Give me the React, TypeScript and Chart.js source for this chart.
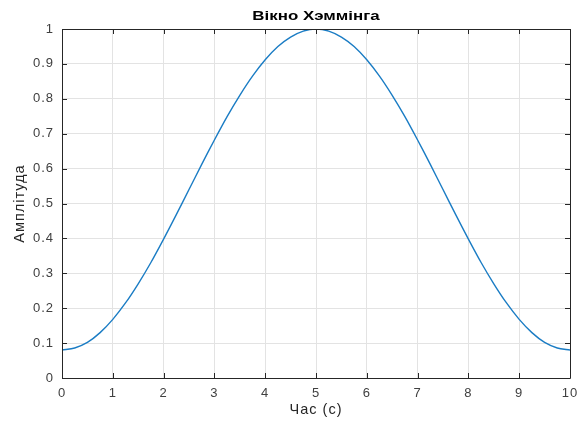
import React, { useEffect, useRef } from "react";
import { Chart, registerables } from "chart.js";

Chart.register(...registerables);

const times = [0, 0.25, 0.5, 0.75, 1, 1.25, 1.5, 1.75, 2, 2.25, 2.5, 2.75, 3, 3.25, 3.5, 3.75, 4, 4.25, 4.5, 4.75, 5, 5.25, 5.5, 5.75, 6, 6.25, 6.5, 6.75, 7, 7.25, 7.5, 7.75, 8, 8.25, 8.5, 8.75, 9, 9.25, 9.5, 9.75, 10];
const amplitude = [0.08, 0.086, 0.102, 0.13, 0.168, 0.215, 0.27, 0.331, 0.398, 0.468, 0.54, 0.612, 0.682, 0.749, 0.81, 0.865, 0.912, 0.95, 0.977, 0.994, 1.0, 0.994, 0.977, 0.95, 0.912, 0.865, 0.81, 0.749, 0.682, 0.612, 0.54, 0.468, 0.398, 0.331, 0.27, 0.215, 0.168, 0.13, 0.102, 0.086, 0.08];
const xTicks = [0, 1, 2, 3, 4, 5, 6, 7, 8, 9, 10];
const yTicks = [0, 0.1, 0.2, 0.3, 0.4, 0.5, 0.6, 0.7, 0.8, 0.9, 1];
const titleText = "Вікно Хэммінга";
const xLabel = "Час (с)";
const yLabel = "Амплітуда";

const FONT = "'Liberation Sans', Arial, sans-serif";

const spacingPlugin = {
  id: "spacing",
  beforeUpdate(chart: any) {
    chart.ctx.letterSpacing = "1px";
  },
  beforeDraw(chart: any) {
    chart.ctx.letterSpacing = "1px";
  },
};

const boxPlugin = {
  id: "boxTicks",
  afterDraw(chart: any) {
    const { ctx, chartArea } = chart;
    const { left, right, top, bottom } = chartArea;
    const x = chart.scales.x;
    const y = chart.scales.y;
    ctx.save();
    ctx.strokeStyle = "#262626";
    ctx.lineWidth = 1;
    ctx.beginPath();
    ctx.rect(Math.round(left) + 0.5, Math.round(top) + 0.5, Math.round(right - left), Math.round(bottom - top));
    ctx.stroke();
    const tl = 5;
    ctx.beginPath();
    xTicks.forEach((v) => {
      const px = Math.round(x.getPixelForValue(v)) + 0.5;
      ctx.moveTo(px, bottom);
      ctx.lineTo(px, bottom - tl);
      ctx.moveTo(px, top);
      ctx.lineTo(px, top + tl);
    });
    yTicks.forEach((v) => {
      const py = Math.round(y.getPixelForValue(v)) + 0.5;
      ctx.moveTo(left, py);
      ctx.lineTo(left + tl, py);
      ctx.moveTo(right, py);
      ctx.lineTo(right - tl, py);
    });
    ctx.stroke();
    // title
    ctx.letterSpacing = "0px";
    ctx.fillStyle = "#000000";
    ctx.font = "bold 13px " + FONT;
    ctx.textAlign = "center";
    ctx.textBaseline = "middle";
    const cx = (left + right) / 2;
    ctx.translate(cx, 16);
    ctx.scale(1.3, 1);
    ctx.fillText(titleText, 0, 0);
    ctx.restore();
  },
};

export default function App() {
  const ref = useRef<HTMLCanvasElement | null>(null);
  useEffect(() => {
    document.body.style.margin = "0";
    const canvas = ref.current;
    if (!canvas) return;
    const chart = new Chart(canvas, {
      type: "line",
      data: {
        datasets: [
          {
            data: times.map((t, i) => ({ x: t, y: amplitude[i] })),
            borderColor: "#1a7cc4",
            borderWidth: 1.4,
            pointRadius: 0,
            tension: 0.3,
            fill: false,
          },
        ],
      },
      options: {
        responsive: false,
        animation: false,
        devicePixelRatio: 1,
        layout: { padding: { left: 0, right: 7, top: 29, bottom: 0 } },
        plugins: {
          legend: { display: false },
          tooltip: { enabled: false },
          title: { display: false },
        },
        scales: {
          x: {
            type: "linear",
            min: 0,
            max: 10,
            afterBuildTicks: (scale: any) => {
              scale.ticks = xTicks.map((v) => ({ value: v }));
            },
            afterFit: (scale: any) => {
              scale.height = 45;
              scale.paddingLeft = 0;
              scale.paddingRight = 0;
            },
            ticks: {
              color: "#404040",
              font: { family: FONT, size: 13 },
              padding: 8,
              maxRotation: 0,
              autoSkip: false,
              callback: (v: any) => String(v),
            },
            grid: { color: "#e3e3e3", drawTicks: false, lineWidth: 1 },
            border: { display: false },
            title: {
              display: true,
              text: xLabel,
              color: "#262626",
              font: { family: FONT, size: 14.5, lineHeight: 1.2 },
              padding: { top: 0, bottom: 4 },
            },
          },
          y: {
            type: "linear",
            min: 0,
            max: 1,
            afterBuildTicks: (scale: any) => {
              scale.ticks = yTicks.map((v) => ({ value: v }));
            },
            afterFit: (scale: any) => {
              scale.width = 62;
              scale.paddingTop = 0;
              scale.paddingBottom = 0;
            },
            ticks: {
              color: "#404040",
              font: { family: FONT, size: 13 },
              padding: 8,
              autoSkip: false,
              callback: (v: any) => String(Number(Number(v).toFixed(1))),
            },
            grid: { color: "#e3e3e3", drawTicks: false, lineWidth: 1 },
            border: { display: false },
            title: {
              display: true,
              text: yLabel,
              color: "#262626",
              font: { family: FONT, size: 14.5, lineHeight: 1.2 },
              padding: { top: 11, bottom: 0 },
            },
          },
        },
      },
      plugins: [spacingPlugin, boxPlugin],
    } as any);
    return () => chart.destroy();
  }, []);
  return (
    <div style={{ width: 577, height: 423, background: "#ffffff" }}>
      <canvas ref={ref} width={577} height={423} style={{ display: "block" }} />
    </div>
  );
}
